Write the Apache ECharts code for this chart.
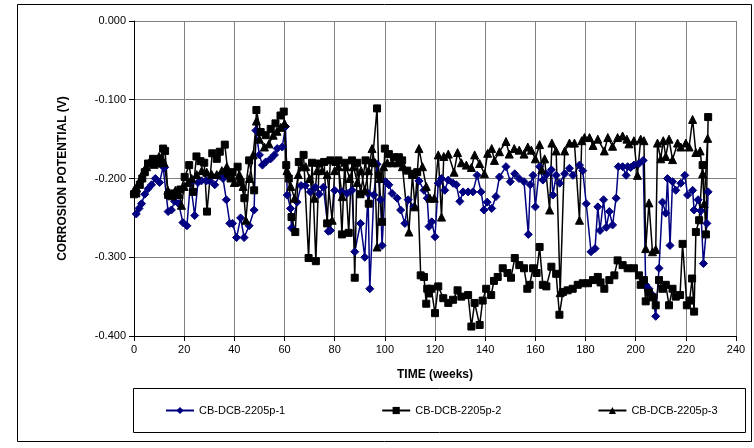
<!DOCTYPE html>
<html>
<head>
<meta charset="utf-8">
<script src="https://cdn.jsdelivr.net/npm/echarts@6/dist/echarts.min.js"></script>
<style>
html,body{margin:0;padding:0;background:#fff;}
#c{width:754px;height:448px;}
</style>
</head>
<body>
<div id="c"></div>
<script>
// ---- data (weeks, corrosion potential in V) ----
const seriesNames = ['CB-DCB-2205p-1', 'CB-DCB-2205p-2', 'CB-DCB-2205p-3'];
const xTicks = [0, 20, 40, 60, 80, 100, 120, 140, 160, 180, 200, 220, 240];
const yTicks = [-0.4, -0.3, -0.2, -0.1, 0];

const p1 = [
[0.9,-0.245],[2,-0.238],[3,-0.232],[4.3,-0.220],[5.6,-0.213],[7,-0.208],[8.5,-0.200],[10.2,-0.205],[11.6,-0.185],[12.2,-0.186],
[13.6,-0.242],[14.9,-0.240],[16.2,-0.229],[17.8,-0.232],[19.5,-0.256],[21.1,-0.260],[22.5,-0.205],[24.2,-0.247],[25.5,-0.205],[26.9,-0.203],
[28.9,-0.203],[30.2,-0.203],[32.2,-0.208],[34.2,-0.196],[35.5,-0.200],[36.8,-0.227],[38.2,-0.257],[39.3,-0.257],[40.9,-0.275],[42.5,-0.250],
[43.9,-0.275],[45.9,-0.260],[47.9,-0.240],[48.6,-0.139],[50,-0.170],[51.2,-0.183],[52.5,-0.179],[54.5,-0.175],[56,-0.170],[57.1,-0.162],
[59.1,-0.160],[60.4,-0.134],[61.1,-0.221],[62.4,-0.238],[62.8,-0.263],[65,-0.230],[66.6,-0.209],[68.3,-0.209],[70.3,-0.217],[72.3,-0.211],
[73.8,-0.220],[75.5,-0.211],[77.5,-0.267],[78.3,-0.266],[80,-0.215],[82.9,-0.217],[84.9,-0.219],[86.9,-0.215],[88,-0.293],[90.3,-0.257],
[92,-0.300],[93.3,-0.219],[94,-0.340],[95.6,-0.221],[96.9,-0.182],[98.3,-0.227],[98.9,-0.285],[100.3,-0.204],[101.6,-0.208],[102.9,-0.219],
[104.9,-0.225],[106.3,-0.240],[108,-0.257],[109.3,-0.227],[111.6,-0.236],[113.6,-0.203],[115.6,-0.215],[116.9,-0.225],[117.6,-0.261],[118.7,-0.255],
[120,-0.274],[121.3,-0.206],[122.6,-0.200],[123.9,-0.215],[125.3,-0.202],[127.2,-0.206],[128.5,-0.208],[129.9,-0.229],[131.2,-0.217],[133.2,-0.217],
[135.1,-0.217],[136.8,-0.196],[138.4,-0.217],[139.5,-0.240],[140.8,-0.230],[142.6,-0.238],[144.3,-0.223],[145.7,-0.198],[148.3,-0.185],[150,-0.204],
[151.8,-0.194],[153.5,-0.200],[155.5,-0.204],[157.2,-0.271],[158,-0.208],[159.1,-0.196],[160,-0.236],[161.7,-0.185],[163,-0.202],[164.5,-0.195],
[166.4,-0.189],[167,-0.221],[168.3,-0.196],[169.7,-0.206],[171.7,-0.194],[173.6,-0.187],[175,-0.196],[177.6,-0.183],[178.9,-0.190],[180.3,-0.232],
[182.2,-0.293],[183.8,-0.289],[184.9,-0.236],[185.8,-0.266],[187.2,-0.227],[188.3,-0.262],[189.5,-0.242],[190.8,-0.259],[192.2,-0.225],[193.1,-0.185],
[194.8,-0.185],[196.2,-0.196],[196.8,-0.185],[198,-0.186],[199.3,-0.183],[201.3,-0.181],[203,-0.177],[204,-0.335],[205.3,-0.340],[206.7,-0.348],
[208,-0.375],[209.3,-0.314],[210.7,-0.230],[212,-0.244],[212.7,-0.200],[213.7,-0.285],[214.7,-0.204],[216,-0.215],[218,-0.206],[219.6,-0.196],
[220.7,-0.221],[222.7,-0.215],[223.3,-0.240],[224.9,-0.227],[226,-0.241],[227,-0.308],[228.4,-0.257],[228.9,-0.217]
];

const p2 = [
[0,-0.220],[0.9,-0.219],[2.3,-0.208],[3.3,-0.200],[4.3,-0.192],[5.6,-0.181],[7.6,-0.175],[9.6,-0.181],[10.5,-0.175],[11.6,-0.162],
[12.4,-0.165],[13.6,-0.221],[14.9,-0.219],[16.9,-0.221],[18.5,-0.214],[20.2,-0.198],[22,-0.183],[23.5,-0.217],[24.9,-0.172],[26.5,-0.178],
[28,-0.180],[29.1,-0.242],[31.2,-0.168],[33,-0.175],[34.2,-0.166],[36.2,-0.157],[37.5,-0.194],[38.5,-0.200],[39.3,-0.192],[41.3,-0.185],
[42.5,-0.205],[44,-0.225],[45.9,-0.177],[47.9,-0.215],[48.8,-0.113],[50.5,-0.141],[52.5,-0.145],[54.5,-0.137],[56.4,-0.130],[58.4,-0.120],
[59.7,-0.115],[60.7,-0.183],[61.7,-0.200],[62.8,-0.249],[64.3,-0.268],[65.7,-0.179],[67.6,-0.170],[69.6,-0.301],[71,-0.180],[72.5,-0.305],
[73.8,-0.181],[75.8,-0.179],[77,-0.257],[78.3,-0.177],[80.3,-0.179],[81.5,-0.177],[82.9,-0.271],[84,-0.180],[85.6,-0.269],[86.9,-0.177],
[88,-0.326],[89,-0.180],[90.3,-0.220],[92.3,-0.177],[93.6,-0.232],[95,-0.180],[96.9,-0.111],[97.6,-0.196],[98.9,-0.255],[100,-0.162],
[101.6,-0.169],[103.6,-0.173],[105.6,-0.173],[106.9,-0.177],[108.9,-0.190],[110.9,-0.194],[112.9,-0.192],[114.3,-0.323],[115.6,-0.325],[116.5,-0.359],
[116.9,-0.340],[117.6,-0.346],[118.5,-0.340],[120,-0.371],[121.3,-0.337],[123.3,-0.352],[125.3,-0.358],[127.2,-0.354],[129,-0.342],[130.5,-0.350],
[133.2,-0.348],[134.5,-0.388],[135.8,-0.358],[137.8,-0.386],[139,-0.355],[140.4,-0.340],[142.4,-0.348],[143.5,-0.330],[145,-0.325],[147,-0.314],
[148.9,-0.320],[150.3,-0.326],[151.8,-0.301],[153.6,-0.310],[155.5,-0.314],[156.8,-0.340],[157.7,-0.335],[159.1,-0.314],[160.5,-0.320],[161.7,-0.287],
[163,-0.335],[164.4,-0.337],[166.4,-0.312],[168.3,-0.321],[169.6,-0.373],[171,-0.344],[172.9,-0.342],[174.9,-0.340],[176.9,-0.335],[178.9,-0.333],
[181,-0.333],[183,-0.329],[184.9,-0.325],[186,-0.332],[187.5,-0.340],[189.5,-0.329],[191.5,-0.323],[192.8,-0.304],[194.8,-0.310],[196.8,-0.314],
[199.3,-0.314],[201.3,-0.323],[202,-0.335],[203.3,-0.329],[204,-0.356],[205.3,-0.345],[206.7,-0.351],[208,-0.361],[209.3,-0.329],[210.7,-0.340],
[212,-0.335],[213.3,-0.361],[214.7,-0.340],[216,-0.350],[217.7,-0.348],[218.7,-0.283],[220.4,-0.361],[221.5,-0.355],[222.5,-0.327],[223.3,-0.369],
[224,-0.268],[225.3,-0.253],[226.7,-0.183],[228,-0.271],[228.9,-0.122]
];

const p3 = [
[0,-0.215],[1,-0.212],[2,-0.205],[3,-0.198],[4,-0.190],[5,-0.185],[6,-0.180],[7,-0.178],[8,-0.182],[9,-0.178],
[10,-0.172],[11,-0.175],[12,-0.180],[13.5,-0.215],[15,-0.222],[16.5,-0.215],[18,-0.220],[18.9,-0.234],[20,-0.210],[21.5,-0.205],
[23,-0.200],[25,-0.195],[27,-0.190],[29,-0.192],[31,-0.195],[33,-0.195],[35,-0.190],[37,-0.185],[38.5,-0.195],[40,-0.205],
[42,-0.195],[43.5,-0.210],[44.6,-0.253],[46,-0.200],[47.5,-0.170],[48.8,-0.127],[50,-0.150],[52,-0.160],[53.8,-0.156],[55.5,-0.145],
[57,-0.140],[58.5,-0.135],[60,-0.130],[61,-0.190],[62.5,-0.210],[64,-0.225],[65.5,-0.195],[67,-0.185],[68.5,-0.185],[70,-0.200],
[71.9,-0.225],[73,-0.190],[75,-0.190],[77,-0.195],[79,-0.253],[80,-0.190],[81.5,-0.185],[83,-0.223],[84.5,-0.185],[86,-0.200],
[87.5,-0.185],[89,-0.205],[90.5,-0.190],[92,-0.215],[93.5,-0.190],[94.9,-0.162],[96,-0.180],[96.9,-0.287],[98,-0.200],[99.5,-0.185],
[101,-0.180],[103,-0.180],[105,-0.180],[107,-0.185],[109.6,-0.268],[111,-0.195],[112,-0.236],[113.6,-0.162],[115,-0.185],[116.5,-0.210],
[118,-0.225],[119.7,-0.225],[121.3,-0.170],[122.6,-0.249],[123.5,-0.172],[125.3,-0.169],[127.6,-0.192],[129,-0.167],[130.5,-0.180],[132.5,-0.183],
[134.5,-0.186],[135.8,-0.170],[137.8,-0.181],[139.7,-0.194],[141,-0.168],[142.6,-0.162],[143.7,-0.177],[145.7,-0.166],[148.3,-0.153],[149.6,-0.169],
[151.6,-0.162],[153.6,-0.164],[155.5,-0.169],[157,-0.160],[158.4,-0.164],[160,-0.175],[161.7,-0.157],[162.6,-0.189],[163.7,-0.175],[165.7,-0.240],
[166.6,-0.155],[168.3,-0.165],[169.9,-0.345],[171.7,-0.165],[173.6,-0.155],[175.6,-0.155],[177.6,-0.253],[178.5,-0.152],[179.6,-0.148],[181.6,-0.148],
[183,-0.158],[184.9,-0.150],[187.5,-0.165],[188.9,-0.148],[190.8,-0.159],[192.8,-0.148],[194.8,-0.146],[196.5,-0.150],[197.3,-0.156],[199.3,-0.152],
[200.7,-0.196],[202,-0.150],[203.3,-0.152],[204,-0.289],[205.3,-0.231],[206.7,-0.293],[208,-0.290],[208.7,-0.155],[210,-0.175],[211,-0.152],
[212,-0.172],[213.3,-0.150],[214.7,-0.176],[216.7,-0.155],[218,-0.160],[220,-0.155],[221.3,-0.160],[222.7,-0.125],[224,-0.167],[225.7,-0.165],
[226.7,-0.194],[227.3,-0.232],[228.7,-0.149]
];

const chart = echarts.init(document.getElementById('c'), null, {renderer: 'canvas'});
const FONT = 'Liberation Sans, Arial, sans-serif';

function mk(name, data, color, symbol, size) {
  return {
    name: name, type: 'line', data: data,
    symbol: symbol, symbolSize: size,
    lineStyle: {color: color, width: 1.5},
    itemStyle: {color: color, borderColor: color},
    animation: false
  };
}

chart.setOption({
  backgroundColor: '#fff',
  animation: false,
  textStyle: {fontFamily: FONT},
  grid: {left: 134, right: 18, top: 21, bottom: 112, containLabel: false},
  xAxis: {
    type: 'value', min: xTicks[0], max: xTicks[xTicks.length - 1], interval: 20,
    name: 'TIME (weeks)', nameLocation: 'middle', nameGap: 33,
    nameTextStyle: {fontSize: 12, fontWeight: 'bold', color: '#000', fontFamily: FONT},
    axisLine: {onZero: false, lineStyle: {color: '#000', width: 1}},
    axisTick: {show: true, inside: false, length: 5, lineStyle: {color: '#000'}},
    axisLabel: {fontSize: 11, color: '#000', margin: 8, fontFamily: FONT},
    splitLine: {show: true, lineStyle: {color: '#808080', width: 1}}
  },
  yAxis: {
    type: 'value', min: yTicks[0], max: yTicks[yTicks.length - 1], interval: 0.1,
    name: 'CORROSION POTENTIAL (V)', nameLocation: 'middle', nameGap: 65,
    nameTextStyle: {fontSize: 12, fontWeight: 'bold', color: '#000', fontFamily: FONT},
    axisLine: {show: true, lineStyle: {color: '#000', width: 1}},
    axisTick: {show: true, inside: false, length: 5, lineStyle: {color: '#000'}},
    axisLabel: {fontSize: 11, color: '#000', margin: 8, fontFamily: FONT,
      formatter: v => v.toFixed(3)},
    splitLine: {show: true, lineStyle: {color: '#808080', width: 1}}
  },
  legend: {
    data: seriesNames, left: 160, top: 400, itemGap: 96,
    itemWidth: 28, itemHeight: 9,
    textStyle: {fontSize: 11, color: '#000', fontFamily: FONT}
  },
  graphic: [
    {type: 'rect', shape: {x: 17.5, y: 4.5, width: 734, height: 437},
     style: {fill: null, stroke: '#000', lineWidth: 1}, z: -1, silent: true},
    {type: 'rect', shape: {x: 133.5, y: 388.5, width: 612, height: 44},
     style: {fill: null, stroke: '#000', lineWidth: 1}, silent: true}
  ],
  series: [
    mk(seriesNames[0], p1, '#000080', 'diamond', 8),
    mk(seriesNames[1], p2, '#000000', 'rect', 7),
    mk(seriesNames[2], p3, '#000000', 'triangle', 8)
  ]
});
</script>
</body>
</html>
